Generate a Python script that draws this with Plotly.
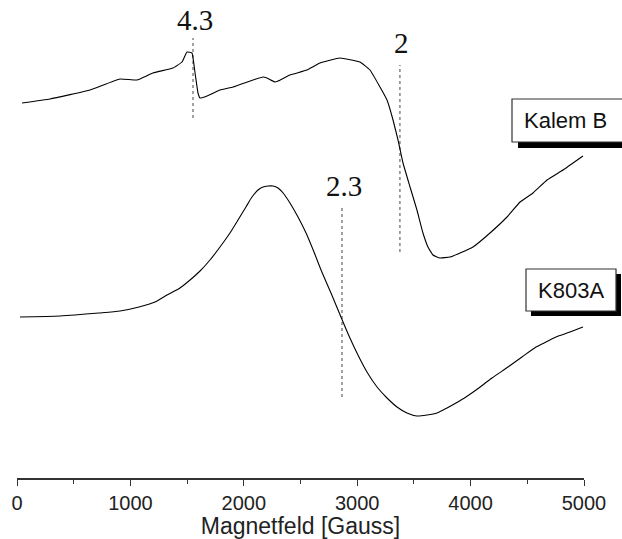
import plotly.graph_objects as go

# Magnetic field (Gauss) and EPR signal (arbitrary units, spectra offset vertically)
kalem_field = [44, 291, 644, 908, 1058, 1199, 1376, 1455, 1499, 1543, 1570, 1596, 1614,
               1676, 1790, 1905, 2081, 2169, 2205, 2275, 2302, 2407, 2557, 2672, 2848,
               3025, 3113, 3201, 3263, 3316, 3360, 3404, 3466, 3527, 3580, 3624, 3668,
               3730, 3818, 3907, 4021, 4171, 4321, 4436, 4550, 4674, 4815, 4991]
kalem_signal = [375, 379, 388, 399, 398, 405, 410, 416, 426, 425, 405, 385, 380,
                382, 388, 391, 398, 401, 400, 396, 397, 403, 408, 415, 420,
                416, 408, 391, 378, 358, 338, 315, 291, 268, 245, 231, 223,
                220, 221, 225, 231, 245, 261, 276, 285, 298, 308, 322]

k803_field = [26, 379, 723, 908, 1076, 1217, 1323, 1437, 1526, 1614, 1702, 1790, 1878,
              1949, 2019, 2072, 2125, 2169, 2213, 2257, 2302, 2354, 2407, 2478, 2549,
              2619, 2681, 2769, 2857, 2928, 2998, 3086, 3175, 3263, 3351, 3439, 3527,
              3616, 3704, 3792, 3871, 3959, 4048, 4189, 4330, 4453, 4577, 4665, 4753,
              4877, 4991]
k803_signal = [161, 162, 165, 167, 171, 176, 183, 190, 198, 207, 218, 231, 245,
               258, 271, 281, 288, 291, 292, 292, 290, 284, 275, 261, 245,
               226, 208, 185, 161, 142, 125, 106, 91, 80, 71, 65, 62,
               63, 65, 70, 75, 81, 88, 100, 111, 121, 131, 136, 141,
               146, 151]

# g-value markers: label, field position, vertical extent (a.u.)
g_labels = ["4.3", "2", "2.3"]
g_field = [1552, 3377, 2866]
g_line_low = [360, 226, 81]
g_line_high = [440, 413, 270]
g_label_y = [458, 435, 292]

sample_names = ["Kalem B", "K803A"]

x_ticks = [0, 1000, 2000, 3000, 4000, 5000]

fig = go.Figure()

for gx, lo, hi in zip(g_field, g_line_low, g_line_high):
    fig.add_trace(go.Scatter(x=[gx, gx], y=[lo, hi], mode="lines",
                             line=dict(color="#444444", width=1, dash="dot"),
                             showlegend=False, hoverinfo="skip"))

fig.add_trace(go.Scatter(x=kalem_field, y=kalem_signal, mode="lines",
                         line=dict(color="black", width=1.1, shape="spline", smoothing=0.3),
                         showlegend=False))
fig.add_trace(go.Scatter(x=k803_field, y=k803_signal, mode="lines",
                         line=dict(color="black", width=1.1, shape="spline", smoothing=0.6),
                         showlegend=False))

for lab, gx, ly in zip(g_labels, g_field, g_label_y):
    fig.add_annotation(x=gx, y=ly, text=lab, showarrow=False, xanchor="center",
                       yanchor="middle", xshift=2,
                       font=dict(family="Liberation Serif", size=29, color="#111111"))

W, H = 622, 539
L, R, T, B = 17, 38, 0, 61
pw, ph = W - L - R, H - T - B


def px(xp):
    return (xp - L) / pw


def py(yp):
    return (H - B - yp) / ph


shapes = []
# Kalem B box with shadow
shapes.append(dict(type="rect", xref="paper", yref="paper",
                   x0=px(518), x1=px(640), y0=py(148), y1=py(104),
                   fillcolor="black", line=dict(width=0)))
shapes.append(dict(type="rect", xref="paper", yref="paper",
                   x0=px(512), x1=px(635), y0=py(142), y1=py(99),
                   fillcolor="white", line=dict(color="#333333", width=1.2)))
# K803A box with shadow
shapes.append(dict(type="rect", xref="paper", yref="paper",
                   x0=px(531), x1=px(621), y0=py(316), y1=py(274),
                   fillcolor="black", line=dict(width=0)))
shapes.append(dict(type="rect", xref="paper", yref="paper",
                   x0=px(526), x1=px(616), y0=py(311), y1=py(269),
                   fillcolor="white", line=dict(color="#333333", width=1.2)))
fig.update_layout(shapes=shapes)

fig.add_annotation(xref="paper", yref="paper", x=px(522), y=py(121), text=sample_names[0],
                   showarrow=False, xanchor="left", yanchor="middle",
                   font=dict(family="Liberation Sans", size=22, color="#111111"))
fig.add_annotation(xref="paper", yref="paper", x=px(571), y=py(290), text=sample_names[1],
                   showarrow=False, xanchor="center", yanchor="middle",
                   font=dict(family="Liberation Sans", size=22, color="#111111"))

fig.update_layout(
    width=W, height=H,
    margin=dict(l=L, r=R, t=T, b=B, pad=0),
    paper_bgcolor="white", plot_bgcolor="white",
    xaxis=dict(range=[0, 5000], tickvals=x_ticks, ticktext=[str(v) for v in x_ticks],
               showline=True, linecolor="#333333", linewidth=1.5,
               ticks="outside", ticklen=6, tickwidth=1.2, tickcolor="#333333",
               minor=dict(ticks="outside", ticklen=4, dtick=500, tickcolor="#333333", tickwidth=1),
               showgrid=False, zeroline=False,
               tickfont=dict(family="Liberation Sans", size=20, color="#222222"),
               title=dict(text="Magnetfeld [Gauss]", standoff=4,
                          font=dict(family="Liberation Sans", size=23, color="#222222"))),
    yaxis=dict(range=[0, ph], visible=False, showgrid=False, zeroline=False),
)

fig.write_html("out.html")
